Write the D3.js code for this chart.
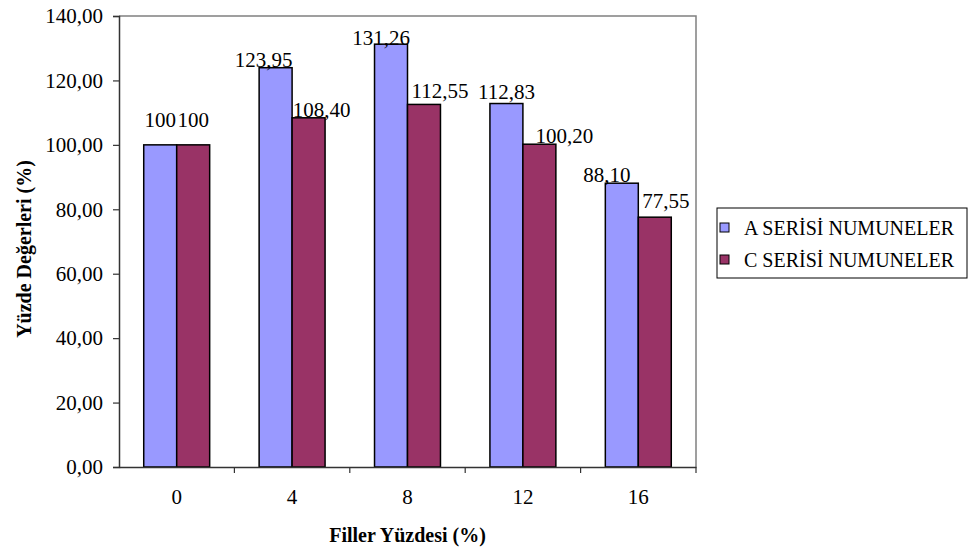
<!DOCTYPE html>
<html>
<head>
<meta charset="utf-8">
<script src="https://cdn.jsdelivr.net/npm/d3@7"></script>
<style>
  body { margin: 0; background: #fff; }
</style>
</head>
<body>
<div id="chart"></div>
<script>
// data
const categories = ["0", "4", "8", "12", "16"];
const seriesNames = ["A SERİSİ NUMUNELER", "C SERİSİ NUMUNELER"];
const seriesA = [100, 123.95, 131.26, 112.83, 88.10];
const seriesC = [100, 108.40, 112.55, 100.20, 77.55];
const yTicks = [0, 20, 40, 60, 80, 100, 120, 140];

// small hand nudges for the value labels (the source had them dragged around)
const nudgeA = [[0, -18], [-12, -1], [-10, 1], [0, -5], [-15, -1]];
const nudgeC = [[0, -18], [13, -1], [16, -6], [25, -1], [11, -9]];

const colors = ["#9999ff", "#993366"];
const font = "Liberation Serif";
const width = 972, height = 550;
const margin = {left: 119, right: 276, top: 16, bottom: 83};
const plotW = width - margin.left - margin.right,
      plotH = height - margin.top - margin.bottom;

const loc = d3.formatLocale({decimal: ",", thousands: ".", grouping: [3], currency: ["", ""]});
const tickFmt = loc.format(".2f");
const valFmt = v => Number.isInteger(v) ? String(v) : loc.format(".2f")(v);

const svg = d3.select("#chart").append("svg")
    .attr("width", width)
    .attr("height", height)
    .attr("font-family", font);

const g = svg.append("g").attr("transform", `translate(${margin.left},${margin.top})`);

const x = d3.scaleBand().domain(categories).range([0, plotW]);
// excel-ish gap width of 150%
const barW = x.bandwidth() / 3.5;
const x1 = d3.scaleBand().domain([0, 1]).range([0, barW * 2]);
const y = d3.scaleLinear().domain([0, 140]).range([plotH, 0]);

// plot frame (top / right in grey)
g.append("path")
  .attr("d", `M0,0H${plotW}V${plotH}`)
  .attr("fill", "none")
  .attr("stroke", "#808080")
  .attr("stroke-width", 1.5);

const rows = categories.map((c, i) => ({cat: c, vals: [seriesA[i], seriesC[i]], nudge: [nudgeA[i], nudgeC[i]]}));

const groups = g.selectAll(".grp")
  .data(rows)
  .join("g")
    .attr("class", "grp")
    .attr("transform", d => `translate(${x(d.cat) + (x.bandwidth() - barW * 2) / 2},0)`);

groups.selectAll("rect")
  .data(d => d.vals.map((v, k) => ({v, k})))
  .join("rect")
    .attr("x", d => x1(d.k))
    .attr("y", d => y(d.v))
    .attr("width", barW)
    .attr("height", d => plotH - y(d.v))
    .attr("fill", d => colors[d.k])
    .attr("stroke", "#000")
    .attr("stroke-width", 1.5);

groups.selectAll("text.val")
  .data(d => d.vals.map((v, k) => ({v, k, n: d.nudge[k]})))
  .join("text")
    .attr("class", "val")
    .attr("x", d => x1(d.k) + barW / 2 + d.n[0])
    .attr("y", d => y(d.v) + d.n[1])
    .attr("text-anchor", "middle")
    .attr("font-family", font)
    .attr("font-size", 21)
    .text(d => valFmt(d.v));

// y axis
const yAxis = g.append("g")
  .call(d3.axisLeft(y).tickValues(yTicks).tickFormat(tickFmt).tickSize(6).tickPadding(10));
yAxis.attr("font-family", font);
yAxis.select(".domain").attr("stroke", "#333").attr("stroke-width", 1.5);
yAxis.selectAll(".tick line").attr("stroke", "#333").attr("stroke-width", 1.2);
yAxis.selectAll(".tick text")
  .attr("font-size", 21).attr("font-family", font).attr("fill", "#000");

// x axis: labels in the middle, ticks between categories
const xAxis = g.append("g")
  .attr("transform", `translate(0,${plotH})`)
  .call(d3.axisBottom(x).tickSize(0).tickPadding(22));
xAxis.attr("font-family", font);
xAxis.select(".domain").attr("stroke", "#333").attr("stroke-width", 1.5);
xAxis.selectAll(".tick text")
  .attr("font-size", 21).attr("font-family", font).attr("fill", "#000");
xAxis.selectAll(".sep")
  .data(categories.map(c => x(c) + x.bandwidth()))
  .join("line")
    .attr("class", "sep")
    .attr("x1", d => d).attr("x2", d => d)
    .attr("y1", 0).attr("y2", 6)
    .attr("stroke", "#333")
    .attr("stroke-width", 1.2);

// axis titles
svg.append("text")
  .attr("x", margin.left + plotW / 2)
  .attr("y", 542)
  .attr("text-anchor", "middle")
  .attr("font-family", font)
  .attr("font-size", 20)
  .attr("font-weight", "bold")
  .text("Filler Yüzdesi (%)");

svg.append("text")
  .attr("transform", "translate(31,249) rotate(-90)")
  .attr("text-anchor", "middle")
  .attr("font-family", font)
  .attr("font-size", 20)
  .attr("font-weight", "bold")
  .text("Yüzde Değerleri (%)");

// legend
const leg = svg.append("g").attr("transform", "translate(717,208)");
leg.append("rect")
  .attr("width", 250).attr("height", 70)
  .attr("fill", "#fff").attr("stroke", "#000").attr("stroke-width", 1);
const items = leg.selectAll(".item")
  .data(seriesNames)
  .join("g")
    .attr("class", "item")
    .attr("transform", (d, i) => `translate(0,${27 + i * 32})`);
items.append("rect")
  .attr("x", 3).attr("y", -12)
  .attr("width", 9).attr("height", 9)
  .attr("fill", (d, i) => colors[i])
  .attr("stroke", "#000").attr("stroke-width", 1);
items.append("text")
  .attr("x", 27).attr("y", 0)
  .attr("font-family", font)
  .attr("font-size", 20)
  .text(d => d);
</script>
</body>
</html>
